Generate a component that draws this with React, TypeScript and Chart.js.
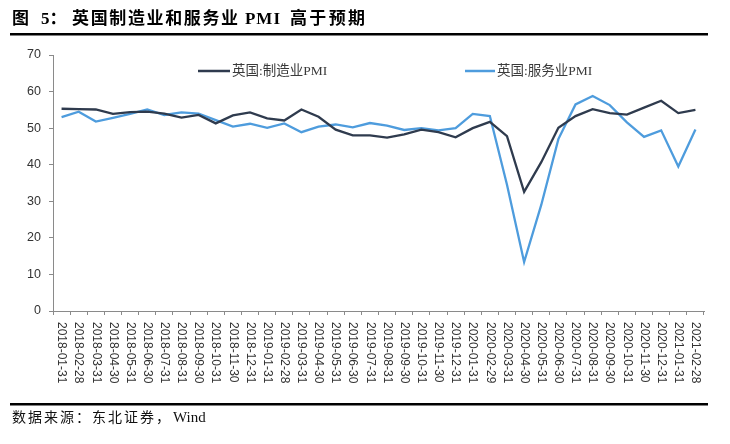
import React, { useEffect, useRef } from "react";
import { Chart, registerables } from "chart.js";

Chart.register(...registerables);

const categories = [
  "2018-01-31", "2018-02-28", "2018-03-31", "2018-04-30", "2018-05-31", "2018-06-30",
  "2018-07-31", "2018-08-31", "2018-09-30", "2018-10-31", "2018-11-30", "2018-12-31",
  "2019-01-31", "2019-02-28", "2019-03-31", "2019-04-30", "2019-05-31", "2019-06-30",
  "2019-07-31", "2019-08-31", "2019-09-30", "2019-10-31", "2019-11-30", "2019-12-31",
  "2020-01-31", "2020-02-29", "2020-03-31", "2020-04-30", "2020-05-31", "2020-06-30",
  "2020-07-31", "2020-08-31", "2020-09-30", "2020-10-31", "2020-11-30", "2020-12-31",
  "2021-01-31", "2021-02-28",
];

const manufacturingPMI = [
  55.3, 55.2, 55.1, 53.9, 54.4, 54.5, 54.0, 52.9, 53.6, 51.3, 53.5, 54.3,
  52.7, 52.1, 55.1, 53.1, 49.6, 48.0, 48.0, 47.4, 48.3, 49.6, 48.9, 47.5,
  50.0, 51.7, 47.8, 32.6, 40.7, 50.1, 53.3, 55.2, 54.1, 53.7, 55.6, 57.5,
  54.1, 55.0,
];

const servicesPMI = [
  53.0, 54.5, 51.8, 52.8, 53.9, 55.1, 53.6, 54.3, 54.0, 52.2, 50.4, 51.2,
  50.1, 51.3, 48.9, 50.4, 51.0, 50.2, 51.4, 50.7, 49.5, 50.0, 49.4, 50.0,
  53.9, 53.3, 34.5, 13.4, 29.0, 47.0, 56.5, 58.8, 56.3, 51.6, 47.6, 49.4,
  39.5, 49.6,
];

const yTickValues = [0, 10, 20, 30, 40, 50, 60, 70];
const seriesNames = ["英国:制造业PMI", "英国:服务业PMI"];
const seriesColors = ["#2F3B4E", "#4E9CDD"];
const titleParts = ["图", "5：", "英国制造业和服务业", "PMI", "高于预期"];
const sourceParts = ["数据来源：东北证券，", "Wind"];

const SERIF = '"Liberation Serif", "Noto Sans CJK SC", serif';
const SANS = '"Liberation Sans", Arial, sans-serif';

function drawFitted(ctx: CanvasRenderingContext2D, text: string, x: number, y: number, width: number) {
  (ctx as any).letterSpacing = "0px";
  const w = ctx.measureText(text).width;
  const n = Array.from(text).length;
  const sp = n > 1 ? (width - w) / (n - 1) : 0;
  (ctx as any).letterSpacing = sp + "px";
  ctx.fillText(text, x, y);
  (ctx as any).letterSpacing = "0px";
}

const decorPlugin = {
  id: "decor",
  beforeDraw(chart: any) {
    const ctx = chart.ctx;
    ctx.save();
    ctx.fillStyle = "#ffffff";
    ctx.fillRect(0, 0, chart.width, chart.height);
    ctx.restore();
  },
  afterDraw(chart: any) {
    const ctx: CanvasRenderingContext2D = chart.ctx;
    ctx.save();
    // title
    ctx.fillStyle = "#000000";
    ctx.textAlign = "left";
    ctx.textBaseline = "middle";
    ctx.font = "bold 17px " + SERIF;
    ctx.fillText(titleParts[0], 12, 20);
    ctx.fillText(titleParts[1], 41, 20);
    drawFitted(ctx, titleParts[2], 72, 20, 166);
    ctx.font = "bold 17px " + SERIF;
    drawFitted(ctx, titleParts[3], 245, 20, 35);
    drawFitted(ctx, titleParts[4], 290, 20, 75);
    // rules
    ctx.fillRect(10, 33, 698, 2.5);
    ctx.fillRect(10, 403, 698, 2.5);
    // source
    ctx.font = "14px " + SERIF;
    ctx.fillStyle = "#111111";
    drawFitted(ctx, sourceParts[0], 12, 418, 158);
    ctx.font = "15px " + SERIF;
    ctx.fillText(sourceParts[1], 173, 418);

    // x labels rotated clockwise
    const xs = chart.scales.x;
    ctx.font = "12px " + SANS;
    ctx.fillStyle = "#333333";
    ctx.textAlign = "left";
    ctx.textBaseline = "middle";
    categories.forEach((lab, i) => {
      const px = xs.getPixelForValue(i);
      ctx.save();
      ctx.translate(px, xs.top + 11);
      ctx.rotate(Math.PI / 2);
      ctx.fillText(lab, 0, 0);
      ctx.restore();
    });

    // legend
    const legend = [
      { x0: 198, x1: 230, tx: 232 },
      { x0: 465, x1: 495, tx: 497 },
    ];
    legend.forEach((l, i) => {
      ctx.strokeStyle = seriesColors[i];
      ctx.lineWidth = 2.5;
      ctx.beginPath();
      ctx.moveTo(l.x0, 71);
      ctx.lineTo(l.x1, 71);
      ctx.stroke();
      ctx.font = "13.5px " + SERIF;
      ctx.fillStyle = "#3a3a3a";
      ctx.textAlign = "left";
      ctx.textBaseline = "middle";
      ctx.fillText(seriesNames[i], l.tx, 71);
    });
    ctx.restore();
  },
};

export default function App() {
  const ref = useRef<HTMLCanvasElement | null>(null);
  useEffect(() => {
    if (!ref.current) return;
    const chart = new Chart(ref.current, {
      type: "line",
      data: {
        labels: categories,
        datasets: [
          {
            label: seriesNames[0],
            data: manufacturingPMI,
            borderColor: seriesColors[0],
            backgroundColor: seriesColors[0],
            borderWidth: 2.3,
            pointRadius: 0,
            tension: 0,
          },
          {
            label: seriesNames[1],
            data: servicesPMI,
            borderColor: seriesColors[1],
            backgroundColor: seriesColors[1],
            borderWidth: 2.3,
            pointRadius: 0,
            tension: 0,
          },
        ],
      },
      options: {
        responsive: false,
        animation: false,
        devicePixelRatio: 1,
        layout: { padding: { left: 20, right: 26, top: 55, bottom: 53 } },
        plugins: {
          legend: { display: false },
          title: { display: false },
          tooltip: { enabled: false },
        },
        scales: {
          x: {
            type: "category",
            offset: true,
            grid: {
              display: true,
              offset: true,
              drawOnChartArea: false,
              drawTicks: true,
              tickLength: 4,
              color: "#8a8a8a",
            },
            border: { display: true, color: "#8a8a8a", width: 1 },
            ticks: { display: false, autoSkip: false },
            afterFit: (s: any) => {
              s.height = 80;
            },
          },
          y: {
            min: 0,
            max: 70,
            afterBuildTicks: (s: any) => {
              s.ticks = yTickValues.map((v) => ({ value: v }));
            },
            grid: {
              display: true,
              drawOnChartArea: false,
              drawTicks: true,
              tickLength: 4,
              color: "#8a8a8a",
            },
            border: { display: true, color: "#8a8a8a", width: 1 },
            ticks: {
              padding: 8,
              color: "#333333",
              font: { family: SANS, size: 12.5 },
            },
            afterFit: (s: any) => {
              s.width = 33;
            },
          },
        },
      },
      plugins: [decorPlugin],
    } as any);
    return () => chart.destroy();
  }, []);
  return (
    <div style={{ position: "absolute", left: 0, top: 0, width: 730, height: 444 }}>
      <canvas ref={ref} width={730} height={444} style={{ width: 730, height: 444, display: "block" }} />
    </div>
  );
}
